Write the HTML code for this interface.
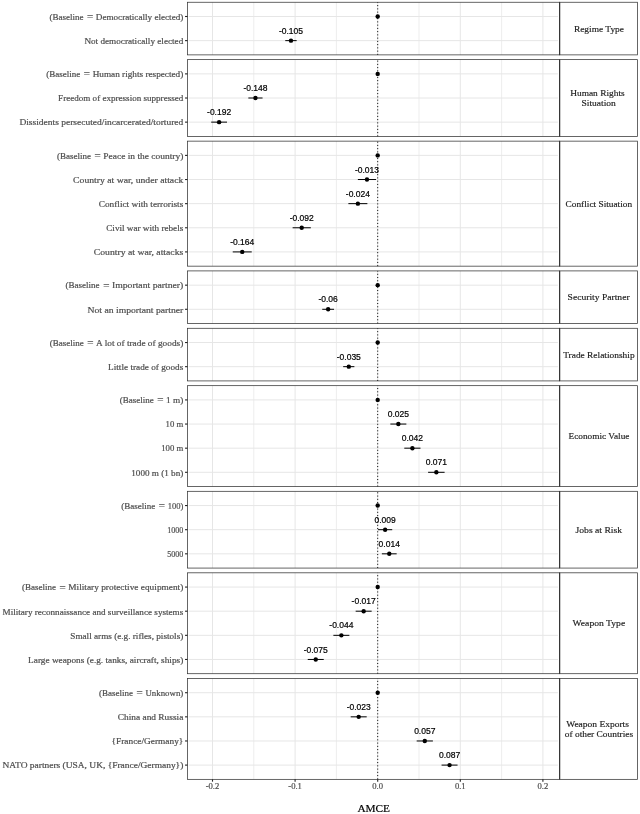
<!DOCTYPE html>
<html lang="en">
<head>
<meta charset="utf-8">
<title>AMCE plot</title>
<style>
html,body{margin:0;padding:0;background:#fff;}
svg{display:block;}
.yl{font-family:"Liberation Serif",serif;font-size:9px;fill:#4d4d4d;stroke:#4d4d4d;stroke-width:0.2px;}
.eq{font-family:"Liberation Serif",serif;font-size:11.5px;fill:#4d4d4d;}
.st{font-family:"Liberation Serif",serif;font-size:9px;fill:#1a1a1a;stroke:#1a1a1a;stroke-width:0.15px;}
.xt{font-family:"Liberation Serif",serif;font-size:8.6px;fill:#4d4d4d;stroke:#4d4d4d;stroke-width:0.2px;text-anchor:middle;}
.ti{font-family:"Liberation Serif",serif;font-size:11.3px;fill:#000;stroke:#000;stroke-width:0.2px;text-anchor:middle;}
.vl{font-family:"Liberation Sans",sans-serif;font-size:8.5px;fill:#000;stroke:#000;stroke-width:0.2px;text-anchor:middle;}
</style>
</head>
<body>
<svg width="640" height="814" viewBox="0 0 640 814">
<rect x="0" y="0" width="640" height="814" fill="#ffffff"/>
<g>
<rect x="187.50" y="2.25" width="372.10" height="52.63" fill="#fff"/>
<line x1="253.80" y1="2.25" x2="253.80" y2="54.88" stroke="#e3e3e3" stroke-width="0.65"/>
<line x1="336.40" y1="2.25" x2="336.40" y2="54.88" stroke="#e3e3e3" stroke-width="0.65"/>
<line x1="419.00" y1="2.25" x2="419.00" y2="54.88" stroke="#e3e3e3" stroke-width="0.65"/>
<line x1="501.60" y1="2.25" x2="501.60" y2="54.88" stroke="#e3e3e3" stroke-width="0.65"/>
<line x1="212.50" y1="2.25" x2="212.50" y2="54.88" stroke="#e6e6e6" stroke-width="1"/>
<line x1="295.10" y1="2.25" x2="295.10" y2="54.88" stroke="#e6e6e6" stroke-width="1"/>
<line x1="377.70" y1="2.25" x2="377.70" y2="54.88" stroke="#e6e6e6" stroke-width="1"/>
<line x1="460.30" y1="2.25" x2="460.30" y2="54.88" stroke="#e6e6e6" stroke-width="1"/>
<line x1="542.90" y1="2.25" x2="542.90" y2="54.88" stroke="#e6e6e6" stroke-width="1"/>
<line x1="188.90" y1="16.50" x2="557.90" y2="16.50" stroke="#e6e6e6" stroke-width="1"/>
<line x1="188.90" y1="40.63" x2="557.90" y2="40.63" stroke="#e6e6e6" stroke-width="1"/>
<line x1="377.70" y1="54.88" x2="377.70" y2="2.25" stroke="#000" stroke-width="1" stroke-dasharray="1 2.25"/>
<circle cx="377.70" cy="16.50" r="2.2" fill="#000"/>
<line x1="285.27" y1="40.63" x2="296.67" y2="40.63" stroke="#000" stroke-width="1"/>
<circle cx="290.97" cy="40.63" r="2.2" fill="#000"/>
<text class="vl" x="290.97" y="33.73">-0.105</text>
<rect x="187.50" y="2.25" width="372.10" height="52.63" fill="none" stroke="#333" stroke-width="0.75"/>
<rect x="559.60" y="2.25" width="77.90" height="52.63" fill="#fff" stroke="#333" stroke-width="0.75"/>
<line x1="559.70" y1="2.25" x2="559.70" y2="54.88" stroke="#333" stroke-width="1.1"/>
<text class="st" x="573.90" y="31.71" textLength="50.10" lengthAdjust="spacingAndGlyphs">Regime Type</text>
<line x1="185.05" y1="16.50" x2="187.50" y2="16.50" stroke="#222" stroke-width="1.1"/>
<text class="yl" x="49.40" y="19.80" textLength="34.00" lengthAdjust="spacingAndGlyphs">(Baseline</text>
<text class="eq" x="86.70" y="21.00" textLength="6.70" lengthAdjust="spacingAndGlyphs">=</text>
<text class="yl" x="95.80" y="19.80" textLength="87.50" lengthAdjust="spacingAndGlyphs">Democratically elected)</text>
<line x1="185.05" y1="40.63" x2="187.50" y2="40.63" stroke="#222" stroke-width="1.1"/>
<text class="yl" x="84.40" y="43.93" textLength="98.90" lengthAdjust="spacingAndGlyphs">Not democratically elected</text>
</g>
<g>
<rect x="187.50" y="59.63" width="372.10" height="76.76" fill="#fff"/>
<line x1="253.80" y1="59.63" x2="253.80" y2="136.39" stroke="#e3e3e3" stroke-width="0.65"/>
<line x1="336.40" y1="59.63" x2="336.40" y2="136.39" stroke="#e3e3e3" stroke-width="0.65"/>
<line x1="419.00" y1="59.63" x2="419.00" y2="136.39" stroke="#e3e3e3" stroke-width="0.65"/>
<line x1="501.60" y1="59.63" x2="501.60" y2="136.39" stroke="#e3e3e3" stroke-width="0.65"/>
<line x1="212.50" y1="59.63" x2="212.50" y2="136.39" stroke="#e6e6e6" stroke-width="1"/>
<line x1="295.10" y1="59.63" x2="295.10" y2="136.39" stroke="#e6e6e6" stroke-width="1"/>
<line x1="377.70" y1="59.63" x2="377.70" y2="136.39" stroke="#e6e6e6" stroke-width="1"/>
<line x1="460.30" y1="59.63" x2="460.30" y2="136.39" stroke="#e6e6e6" stroke-width="1"/>
<line x1="542.90" y1="59.63" x2="542.90" y2="136.39" stroke="#e6e6e6" stroke-width="1"/>
<line x1="188.90" y1="73.88" x2="557.90" y2="73.88" stroke="#e6e6e6" stroke-width="1"/>
<line x1="188.90" y1="98.01" x2="557.90" y2="98.01" stroke="#e6e6e6" stroke-width="1"/>
<line x1="188.90" y1="122.14" x2="557.90" y2="122.14" stroke="#e6e6e6" stroke-width="1"/>
<line x1="377.70" y1="136.39" x2="377.70" y2="59.63" stroke="#000" stroke-width="1" stroke-dasharray="1 2.25"/>
<circle cx="377.70" cy="73.88" r="2.2" fill="#000"/>
<line x1="248.35" y1="98.01" x2="262.55" y2="98.01" stroke="#000" stroke-width="1"/>
<circle cx="255.45" cy="98.01" r="2.2" fill="#000"/>
<text class="vl" x="255.45" y="91.11">-0.148</text>
<line x1="211.21" y1="122.14" x2="227.01" y2="122.14" stroke="#000" stroke-width="1"/>
<circle cx="219.11" cy="122.14" r="2.2" fill="#000"/>
<text class="vl" x="219.11" y="115.24">-0.192</text>
<rect x="187.50" y="59.63" width="372.10" height="76.76" fill="none" stroke="#333" stroke-width="0.75"/>
<rect x="559.60" y="59.63" width="77.90" height="76.76" fill="#fff" stroke="#333" stroke-width="0.75"/>
<line x1="559.70" y1="59.63" x2="559.70" y2="136.39" stroke="#333" stroke-width="1.1"/>
<text class="st" x="570.20" y="96.41" textLength="54.50" lengthAdjust="spacingAndGlyphs">Human Rights</text>
<text class="st" x="581.50" y="105.91" textLength="34.40" lengthAdjust="spacingAndGlyphs">Situation</text>
<line x1="185.05" y1="73.88" x2="187.50" y2="73.88" stroke="#222" stroke-width="1.1"/>
<text class="yl" x="46.25" y="77.18" textLength="34.00" lengthAdjust="spacingAndGlyphs">(Baseline</text>
<text class="eq" x="83.55" y="78.38" textLength="6.70" lengthAdjust="spacingAndGlyphs">=</text>
<text class="yl" x="92.65" y="77.18" textLength="90.65" lengthAdjust="spacingAndGlyphs">Human rights respected)</text>
<line x1="185.05" y1="98.01" x2="187.50" y2="98.01" stroke="#222" stroke-width="1.1"/>
<text class="yl" x="58.10" y="101.31" textLength="125.20" lengthAdjust="spacingAndGlyphs">Freedom of expression suppressed</text>
<line x1="185.05" y1="122.14" x2="187.50" y2="122.14" stroke="#222" stroke-width="1.1"/>
<text class="yl" x="19.40" y="125.44" textLength="163.90" lengthAdjust="spacingAndGlyphs">Dissidents persecuted/incarcerated/tortured</text>
</g>
<g>
<rect x="187.50" y="141.14" width="372.10" height="125.02" fill="#fff"/>
<line x1="253.80" y1="141.14" x2="253.80" y2="266.16" stroke="#e3e3e3" stroke-width="0.65"/>
<line x1="336.40" y1="141.14" x2="336.40" y2="266.16" stroke="#e3e3e3" stroke-width="0.65"/>
<line x1="419.00" y1="141.14" x2="419.00" y2="266.16" stroke="#e3e3e3" stroke-width="0.65"/>
<line x1="501.60" y1="141.14" x2="501.60" y2="266.16" stroke="#e3e3e3" stroke-width="0.65"/>
<line x1="212.50" y1="141.14" x2="212.50" y2="266.16" stroke="#e6e6e6" stroke-width="1"/>
<line x1="295.10" y1="141.14" x2="295.10" y2="266.16" stroke="#e6e6e6" stroke-width="1"/>
<line x1="377.70" y1="141.14" x2="377.70" y2="266.16" stroke="#e6e6e6" stroke-width="1"/>
<line x1="460.30" y1="141.14" x2="460.30" y2="266.16" stroke="#e6e6e6" stroke-width="1"/>
<line x1="542.90" y1="141.14" x2="542.90" y2="266.16" stroke="#e6e6e6" stroke-width="1"/>
<line x1="188.90" y1="155.39" x2="557.90" y2="155.39" stroke="#e6e6e6" stroke-width="1"/>
<line x1="188.90" y1="179.52" x2="557.90" y2="179.52" stroke="#e6e6e6" stroke-width="1"/>
<line x1="188.90" y1="203.65" x2="557.90" y2="203.65" stroke="#e6e6e6" stroke-width="1"/>
<line x1="188.90" y1="227.78" x2="557.90" y2="227.78" stroke="#e6e6e6" stroke-width="1"/>
<line x1="188.90" y1="251.91" x2="557.90" y2="251.91" stroke="#e6e6e6" stroke-width="1"/>
<line x1="377.70" y1="266.16" x2="377.70" y2="141.14" stroke="#000" stroke-width="1" stroke-dasharray="1 2.25"/>
<circle cx="377.70" cy="155.39" r="2.2" fill="#000"/>
<line x1="357.86" y1="179.52" x2="376.06" y2="179.52" stroke="#000" stroke-width="1"/>
<circle cx="366.96" cy="179.52" r="2.2" fill="#000"/>
<text class="vl" x="366.96" y="172.62">-0.013</text>
<line x1="348.38" y1="203.65" x2="367.38" y2="203.65" stroke="#000" stroke-width="1"/>
<circle cx="357.88" cy="203.65" r="2.2" fill="#000"/>
<text class="vl" x="357.88" y="196.75">-0.024</text>
<line x1="292.61" y1="227.78" x2="310.81" y2="227.78" stroke="#000" stroke-width="1"/>
<circle cx="301.71" cy="227.78" r="2.2" fill="#000"/>
<text class="vl" x="301.71" y="220.88">-0.092</text>
<line x1="232.74" y1="251.91" x2="251.74" y2="251.91" stroke="#000" stroke-width="1"/>
<circle cx="242.24" cy="251.91" r="2.2" fill="#000"/>
<text class="vl" x="242.24" y="245.01">-0.164</text>
<rect x="187.50" y="141.14" width="372.10" height="125.02" fill="none" stroke="#333" stroke-width="0.75"/>
<rect x="559.60" y="141.14" width="77.90" height="125.02" fill="#fff" stroke="#333" stroke-width="0.75"/>
<line x1="559.70" y1="141.14" x2="559.70" y2="266.16" stroke="#333" stroke-width="1.1"/>
<text class="st" x="565.60" y="206.80" textLength="66.50" lengthAdjust="spacingAndGlyphs">Conflict Situation</text>
<line x1="185.05" y1="155.39" x2="187.50" y2="155.39" stroke="#222" stroke-width="1.1"/>
<text class="yl" x="56.90" y="158.69" textLength="34.00" lengthAdjust="spacingAndGlyphs">(Baseline</text>
<text class="eq" x="94.20" y="159.89" textLength="6.70" lengthAdjust="spacingAndGlyphs">=</text>
<text class="yl" x="103.30" y="158.69" textLength="80.00" lengthAdjust="spacingAndGlyphs">Peace in the country)</text>
<line x1="185.05" y1="179.52" x2="187.50" y2="179.52" stroke="#222" stroke-width="1.1"/>
<text class="yl" x="73.10" y="182.82" textLength="110.20" lengthAdjust="spacingAndGlyphs">Country at war, under attack</text>
<line x1="185.05" y1="203.65" x2="187.50" y2="203.65" stroke="#222" stroke-width="1.1"/>
<text class="yl" x="98.75" y="206.95" textLength="84.55" lengthAdjust="spacingAndGlyphs">Conflict with terrorists</text>
<line x1="185.05" y1="227.78" x2="187.50" y2="227.78" stroke="#222" stroke-width="1.1"/>
<text class="yl" x="106.25" y="231.08" textLength="77.05" lengthAdjust="spacingAndGlyphs">Civil war with rebels</text>
<line x1="185.05" y1="251.91" x2="187.50" y2="251.91" stroke="#222" stroke-width="1.1"/>
<text class="yl" x="93.75" y="255.21" textLength="89.55" lengthAdjust="spacingAndGlyphs">Country at war, attacks</text>
</g>
<g>
<rect x="187.50" y="270.91" width="372.10" height="52.63" fill="#fff"/>
<line x1="253.80" y1="270.91" x2="253.80" y2="323.54" stroke="#e3e3e3" stroke-width="0.65"/>
<line x1="336.40" y1="270.91" x2="336.40" y2="323.54" stroke="#e3e3e3" stroke-width="0.65"/>
<line x1="419.00" y1="270.91" x2="419.00" y2="323.54" stroke="#e3e3e3" stroke-width="0.65"/>
<line x1="501.60" y1="270.91" x2="501.60" y2="323.54" stroke="#e3e3e3" stroke-width="0.65"/>
<line x1="212.50" y1="270.91" x2="212.50" y2="323.54" stroke="#e6e6e6" stroke-width="1"/>
<line x1="295.10" y1="270.91" x2="295.10" y2="323.54" stroke="#e6e6e6" stroke-width="1"/>
<line x1="377.70" y1="270.91" x2="377.70" y2="323.54" stroke="#e6e6e6" stroke-width="1"/>
<line x1="460.30" y1="270.91" x2="460.30" y2="323.54" stroke="#e6e6e6" stroke-width="1"/>
<line x1="542.90" y1="270.91" x2="542.90" y2="323.54" stroke="#e6e6e6" stroke-width="1"/>
<line x1="188.90" y1="285.16" x2="557.90" y2="285.16" stroke="#e6e6e6" stroke-width="1"/>
<line x1="188.90" y1="309.29" x2="557.90" y2="309.29" stroke="#e6e6e6" stroke-width="1"/>
<line x1="377.70" y1="323.54" x2="377.70" y2="270.91" stroke="#000" stroke-width="1" stroke-dasharray="1 2.25"/>
<circle cx="377.70" cy="285.16" r="2.2" fill="#000"/>
<line x1="322.24" y1="309.29" x2="334.04" y2="309.29" stroke="#000" stroke-width="1"/>
<circle cx="328.14" cy="309.29" r="2.2" fill="#000"/>
<text class="vl" x="328.14" y="302.39">-0.06</text>
<rect x="187.50" y="270.91" width="372.10" height="52.63" fill="none" stroke="#333" stroke-width="0.75"/>
<rect x="559.60" y="270.91" width="77.90" height="52.63" fill="#fff" stroke="#333" stroke-width="0.75"/>
<line x1="559.70" y1="270.91" x2="559.70" y2="323.54" stroke="#333" stroke-width="1.1"/>
<text class="st" x="567.60" y="300.37" textLength="62.00" lengthAdjust="spacingAndGlyphs">Security Partner</text>
<line x1="185.05" y1="285.16" x2="187.50" y2="285.16" stroke="#222" stroke-width="1.1"/>
<text class="yl" x="65.60" y="288.46" textLength="34.00" lengthAdjust="spacingAndGlyphs">(Baseline</text>
<text class="eq" x="102.90" y="289.66" textLength="6.70" lengthAdjust="spacingAndGlyphs">=</text>
<text class="yl" x="112.00" y="288.46" textLength="71.30" lengthAdjust="spacingAndGlyphs">Important partner)</text>
<line x1="185.05" y1="309.29" x2="187.50" y2="309.29" stroke="#222" stroke-width="1.1"/>
<text class="yl" x="87.50" y="312.59" textLength="95.80" lengthAdjust="spacingAndGlyphs">Not an important partner</text>
</g>
<g>
<rect x="187.50" y="328.29" width="372.10" height="52.63" fill="#fff"/>
<line x1="253.80" y1="328.29" x2="253.80" y2="380.92" stroke="#e3e3e3" stroke-width="0.65"/>
<line x1="336.40" y1="328.29" x2="336.40" y2="380.92" stroke="#e3e3e3" stroke-width="0.65"/>
<line x1="419.00" y1="328.29" x2="419.00" y2="380.92" stroke="#e3e3e3" stroke-width="0.65"/>
<line x1="501.60" y1="328.29" x2="501.60" y2="380.92" stroke="#e3e3e3" stroke-width="0.65"/>
<line x1="212.50" y1="328.29" x2="212.50" y2="380.92" stroke="#e6e6e6" stroke-width="1"/>
<line x1="295.10" y1="328.29" x2="295.10" y2="380.92" stroke="#e6e6e6" stroke-width="1"/>
<line x1="377.70" y1="328.29" x2="377.70" y2="380.92" stroke="#e6e6e6" stroke-width="1"/>
<line x1="460.30" y1="328.29" x2="460.30" y2="380.92" stroke="#e6e6e6" stroke-width="1"/>
<line x1="542.90" y1="328.29" x2="542.90" y2="380.92" stroke="#e6e6e6" stroke-width="1"/>
<line x1="188.90" y1="342.54" x2="557.90" y2="342.54" stroke="#e6e6e6" stroke-width="1"/>
<line x1="188.90" y1="366.67" x2="557.90" y2="366.67" stroke="#e6e6e6" stroke-width="1"/>
<line x1="377.70" y1="380.92" x2="377.70" y2="328.29" stroke="#000" stroke-width="1" stroke-dasharray="1 2.25"/>
<circle cx="377.70" cy="342.54" r="2.2" fill="#000"/>
<line x1="343.19" y1="366.67" x2="354.39" y2="366.67" stroke="#000" stroke-width="1"/>
<circle cx="348.79" cy="366.67" r="2.2" fill="#000"/>
<text class="vl" x="348.79" y="359.77">-0.035</text>
<rect x="187.50" y="328.29" width="372.10" height="52.63" fill="none" stroke="#333" stroke-width="0.75"/>
<rect x="559.60" y="328.29" width="77.90" height="52.63" fill="#fff" stroke="#333" stroke-width="0.75"/>
<line x1="559.70" y1="328.29" x2="559.70" y2="380.92" stroke="#333" stroke-width="1.1"/>
<text class="st" x="563.20" y="357.75" textLength="71.40" lengthAdjust="spacingAndGlyphs">Trade Relationship</text>
<line x1="185.05" y1="342.54" x2="187.50" y2="342.54" stroke="#222" stroke-width="1.1"/>
<text class="yl" x="49.70" y="345.84" textLength="34.00" lengthAdjust="spacingAndGlyphs">(Baseline</text>
<text class="eq" x="87.00" y="347.04" textLength="6.70" lengthAdjust="spacingAndGlyphs">=</text>
<text class="yl" x="96.10" y="345.84" textLength="87.20" lengthAdjust="spacingAndGlyphs">A lot of trade of goods)</text>
<line x1="185.05" y1="366.67" x2="187.50" y2="366.67" stroke="#222" stroke-width="1.1"/>
<text class="yl" x="108.10" y="369.97" textLength="75.20" lengthAdjust="spacingAndGlyphs">Little trade of goods</text>
</g>
<g>
<rect x="187.50" y="385.67" width="372.10" height="100.89" fill="#fff"/>
<line x1="253.80" y1="385.67" x2="253.80" y2="486.56" stroke="#e3e3e3" stroke-width="0.65"/>
<line x1="336.40" y1="385.67" x2="336.40" y2="486.56" stroke="#e3e3e3" stroke-width="0.65"/>
<line x1="419.00" y1="385.67" x2="419.00" y2="486.56" stroke="#e3e3e3" stroke-width="0.65"/>
<line x1="501.60" y1="385.67" x2="501.60" y2="486.56" stroke="#e3e3e3" stroke-width="0.65"/>
<line x1="212.50" y1="385.67" x2="212.50" y2="486.56" stroke="#e6e6e6" stroke-width="1"/>
<line x1="295.10" y1="385.67" x2="295.10" y2="486.56" stroke="#e6e6e6" stroke-width="1"/>
<line x1="377.70" y1="385.67" x2="377.70" y2="486.56" stroke="#e6e6e6" stroke-width="1"/>
<line x1="460.30" y1="385.67" x2="460.30" y2="486.56" stroke="#e6e6e6" stroke-width="1"/>
<line x1="542.90" y1="385.67" x2="542.90" y2="486.56" stroke="#e6e6e6" stroke-width="1"/>
<line x1="188.90" y1="399.92" x2="557.90" y2="399.92" stroke="#e6e6e6" stroke-width="1"/>
<line x1="188.90" y1="424.05" x2="557.90" y2="424.05" stroke="#e6e6e6" stroke-width="1"/>
<line x1="188.90" y1="448.18" x2="557.90" y2="448.18" stroke="#e6e6e6" stroke-width="1"/>
<line x1="188.90" y1="472.31" x2="557.90" y2="472.31" stroke="#e6e6e6" stroke-width="1"/>
<line x1="377.70" y1="486.56" x2="377.70" y2="385.67" stroke="#000" stroke-width="1" stroke-dasharray="1 2.25"/>
<circle cx="377.70" cy="399.92" r="2.2" fill="#000"/>
<line x1="390.35" y1="424.05" x2="406.35" y2="424.05" stroke="#000" stroke-width="1"/>
<circle cx="398.35" cy="424.05" r="2.2" fill="#000"/>
<text class="vl" x="398.35" y="417.15">0.025</text>
<line x1="404.29" y1="448.18" x2="420.49" y2="448.18" stroke="#000" stroke-width="1"/>
<circle cx="412.39" cy="448.18" r="2.2" fill="#000"/>
<text class="vl" x="412.39" y="441.28">0.042</text>
<line x1="428.10" y1="472.31" x2="444.60" y2="472.31" stroke="#000" stroke-width="1"/>
<circle cx="436.35" cy="472.31" r="2.2" fill="#000"/>
<text class="vl" x="436.35" y="465.41">0.071</text>
<rect x="187.50" y="385.67" width="372.10" height="100.89" fill="none" stroke="#333" stroke-width="0.75"/>
<rect x="559.60" y="385.67" width="77.90" height="100.89" fill="#fff" stroke="#333" stroke-width="0.75"/>
<line x1="559.70" y1="385.67" x2="559.70" y2="486.56" stroke="#333" stroke-width="1.1"/>
<text class="st" x="568.60" y="439.26" textLength="60.80" lengthAdjust="spacingAndGlyphs">Economic Value</text>
<line x1="185.05" y1="399.92" x2="187.50" y2="399.92" stroke="#222" stroke-width="1.1"/>
<text class="yl" x="119.70" y="403.22" textLength="34.00" lengthAdjust="spacingAndGlyphs">(Baseline</text>
<text class="eq" x="157.00" y="404.42" textLength="6.70" lengthAdjust="spacingAndGlyphs">=</text>
<text class="yl" x="166.10" y="403.22" textLength="17.20" lengthAdjust="spacingAndGlyphs">1 m)</text>
<line x1="185.05" y1="424.05" x2="187.50" y2="424.05" stroke="#222" stroke-width="1.1"/>
<text class="yl" x="165.60" y="427.35" textLength="17.70" lengthAdjust="spacingAndGlyphs">10 m</text>
<line x1="185.05" y1="448.18" x2="187.50" y2="448.18" stroke="#222" stroke-width="1.1"/>
<text class="yl" x="161.25" y="451.48" textLength="22.05" lengthAdjust="spacingAndGlyphs">100 m</text>
<line x1="185.05" y1="472.31" x2="187.50" y2="472.31" stroke="#222" stroke-width="1.1"/>
<text class="yl" x="131.25" y="475.61" textLength="52.05" lengthAdjust="spacingAndGlyphs">1000 m (1 bn)</text>
</g>
<g>
<rect x="187.50" y="491.31" width="372.10" height="76.76" fill="#fff"/>
<line x1="253.80" y1="491.31" x2="253.80" y2="568.07" stroke="#e3e3e3" stroke-width="0.65"/>
<line x1="336.40" y1="491.31" x2="336.40" y2="568.07" stroke="#e3e3e3" stroke-width="0.65"/>
<line x1="419.00" y1="491.31" x2="419.00" y2="568.07" stroke="#e3e3e3" stroke-width="0.65"/>
<line x1="501.60" y1="491.31" x2="501.60" y2="568.07" stroke="#e3e3e3" stroke-width="0.65"/>
<line x1="212.50" y1="491.31" x2="212.50" y2="568.07" stroke="#e6e6e6" stroke-width="1"/>
<line x1="295.10" y1="491.31" x2="295.10" y2="568.07" stroke="#e6e6e6" stroke-width="1"/>
<line x1="377.70" y1="491.31" x2="377.70" y2="568.07" stroke="#e6e6e6" stroke-width="1"/>
<line x1="460.30" y1="491.31" x2="460.30" y2="568.07" stroke="#e6e6e6" stroke-width="1"/>
<line x1="542.90" y1="491.31" x2="542.90" y2="568.07" stroke="#e6e6e6" stroke-width="1"/>
<line x1="188.90" y1="505.56" x2="557.90" y2="505.56" stroke="#e6e6e6" stroke-width="1"/>
<line x1="188.90" y1="529.69" x2="557.90" y2="529.69" stroke="#e6e6e6" stroke-width="1"/>
<line x1="188.90" y1="553.82" x2="557.90" y2="553.82" stroke="#e6e6e6" stroke-width="1"/>
<line x1="377.70" y1="568.07" x2="377.70" y2="491.31" stroke="#000" stroke-width="1" stroke-dasharray="1 2.25"/>
<circle cx="377.70" cy="505.56" r="2.2" fill="#000"/>
<line x1="378.03" y1="529.69" x2="392.23" y2="529.69" stroke="#000" stroke-width="1"/>
<circle cx="385.13" cy="529.69" r="2.2" fill="#000"/>
<text class="vl" x="385.13" y="522.79">0.009</text>
<line x1="381.86" y1="553.82" x2="396.66" y2="553.82" stroke="#000" stroke-width="1"/>
<circle cx="389.26" cy="553.82" r="2.2" fill="#000"/>
<text class="vl" x="389.26" y="546.92">0.014</text>
<rect x="187.50" y="491.31" width="372.10" height="76.76" fill="none" stroke="#333" stroke-width="0.75"/>
<rect x="559.60" y="491.31" width="77.90" height="76.76" fill="#fff" stroke="#333" stroke-width="0.75"/>
<line x1="559.70" y1="491.31" x2="559.70" y2="568.07" stroke="#333" stroke-width="1.1"/>
<text class="st" x="575.50" y="532.84" textLength="46.60" lengthAdjust="spacingAndGlyphs">Jobs at Risk</text>
<line x1="185.05" y1="505.56" x2="187.50" y2="505.56" stroke="#222" stroke-width="1.1"/>
<text class="yl" x="121.25" y="508.86" textLength="34.00" lengthAdjust="spacingAndGlyphs">(Baseline</text>
<text class="eq" x="158.55" y="510.06" textLength="6.70" lengthAdjust="spacingAndGlyphs">=</text>
<text class="yl" x="167.65" y="508.86" textLength="15.65" lengthAdjust="spacingAndGlyphs">100)</text>
<line x1="185.05" y1="529.69" x2="187.50" y2="529.69" stroke="#222" stroke-width="1.1"/>
<text class="yl" x="167.20" y="532.99" textLength="16.10" lengthAdjust="spacingAndGlyphs">1000</text>
<line x1="185.05" y1="553.82" x2="187.50" y2="553.82" stroke="#222" stroke-width="1.1"/>
<text class="yl" x="167.20" y="557.12" textLength="16.10" lengthAdjust="spacingAndGlyphs">5000</text>
</g>
<g>
<rect x="187.50" y="572.82" width="372.10" height="100.89" fill="#fff"/>
<line x1="253.80" y1="572.82" x2="253.80" y2="673.71" stroke="#e3e3e3" stroke-width="0.65"/>
<line x1="336.40" y1="572.82" x2="336.40" y2="673.71" stroke="#e3e3e3" stroke-width="0.65"/>
<line x1="419.00" y1="572.82" x2="419.00" y2="673.71" stroke="#e3e3e3" stroke-width="0.65"/>
<line x1="501.60" y1="572.82" x2="501.60" y2="673.71" stroke="#e3e3e3" stroke-width="0.65"/>
<line x1="212.50" y1="572.82" x2="212.50" y2="673.71" stroke="#e6e6e6" stroke-width="1"/>
<line x1="295.10" y1="572.82" x2="295.10" y2="673.71" stroke="#e6e6e6" stroke-width="1"/>
<line x1="377.70" y1="572.82" x2="377.70" y2="673.71" stroke="#e6e6e6" stroke-width="1"/>
<line x1="460.30" y1="572.82" x2="460.30" y2="673.71" stroke="#e6e6e6" stroke-width="1"/>
<line x1="542.90" y1="572.82" x2="542.90" y2="673.71" stroke="#e6e6e6" stroke-width="1"/>
<line x1="188.90" y1="587.07" x2="557.90" y2="587.07" stroke="#e6e6e6" stroke-width="1"/>
<line x1="188.90" y1="611.20" x2="557.90" y2="611.20" stroke="#e6e6e6" stroke-width="1"/>
<line x1="188.90" y1="635.33" x2="557.90" y2="635.33" stroke="#e6e6e6" stroke-width="1"/>
<line x1="188.90" y1="659.46" x2="557.90" y2="659.46" stroke="#e6e6e6" stroke-width="1"/>
<line x1="377.70" y1="673.71" x2="377.70" y2="572.82" stroke="#000" stroke-width="1" stroke-dasharray="1 2.25"/>
<circle cx="377.70" cy="587.07" r="2.2" fill="#000"/>
<line x1="355.66" y1="611.20" x2="371.66" y2="611.20" stroke="#000" stroke-width="1"/>
<circle cx="363.66" cy="611.20" r="2.2" fill="#000"/>
<text class="vl" x="363.66" y="604.30">-0.017</text>
<line x1="333.36" y1="635.33" x2="349.36" y2="635.33" stroke="#000" stroke-width="1"/>
<circle cx="341.36" cy="635.33" r="2.2" fill="#000"/>
<text class="vl" x="341.36" y="628.43">-0.044</text>
<line x1="307.75" y1="659.46" x2="323.75" y2="659.46" stroke="#000" stroke-width="1"/>
<circle cx="315.75" cy="659.46" r="2.2" fill="#000"/>
<text class="vl" x="315.75" y="652.56">-0.075</text>
<rect x="187.50" y="572.82" width="372.10" height="100.89" fill="none" stroke="#333" stroke-width="0.75"/>
<rect x="559.60" y="572.82" width="77.90" height="100.89" fill="#fff" stroke="#333" stroke-width="0.75"/>
<line x1="559.70" y1="572.82" x2="559.70" y2="673.71" stroke="#333" stroke-width="1.1"/>
<text class="st" x="572.50" y="626.41" textLength="52.70" lengthAdjust="spacingAndGlyphs">Weapon Type</text>
<line x1="185.05" y1="587.07" x2="187.50" y2="587.07" stroke="#222" stroke-width="1.1"/>
<text class="yl" x="21.90" y="590.37" textLength="34.00" lengthAdjust="spacingAndGlyphs">(Baseline</text>
<text class="eq" x="59.20" y="591.57" textLength="6.70" lengthAdjust="spacingAndGlyphs">=</text>
<text class="yl" x="68.30" y="590.37" textLength="115.00" lengthAdjust="spacingAndGlyphs">Military protective equipment)</text>
<line x1="185.05" y1="611.20" x2="187.50" y2="611.20" stroke="#222" stroke-width="1.1"/>
<text class="yl" x="2.50" y="614.50" textLength="180.80" lengthAdjust="spacingAndGlyphs">Military reconnaissance and surveillance systems</text>
<line x1="185.05" y1="635.33" x2="187.50" y2="635.33" stroke="#222" stroke-width="1.1"/>
<text class="yl" x="70.30" y="638.63" textLength="113.00" lengthAdjust="spacingAndGlyphs">Small arms (e.g. rifles, pistols)</text>
<line x1="185.05" y1="659.46" x2="187.50" y2="659.46" stroke="#222" stroke-width="1.1"/>
<text class="yl" x="28.10" y="662.76" textLength="155.20" lengthAdjust="spacingAndGlyphs">Large weapons (e.g. tanks, aircraft, ships)</text>
</g>
<g>
<rect x="187.50" y="678.46" width="372.10" height="100.89" fill="#fff"/>
<line x1="253.80" y1="678.46" x2="253.80" y2="779.35" stroke="#e3e3e3" stroke-width="0.65"/>
<line x1="336.40" y1="678.46" x2="336.40" y2="779.35" stroke="#e3e3e3" stroke-width="0.65"/>
<line x1="419.00" y1="678.46" x2="419.00" y2="779.35" stroke="#e3e3e3" stroke-width="0.65"/>
<line x1="501.60" y1="678.46" x2="501.60" y2="779.35" stroke="#e3e3e3" stroke-width="0.65"/>
<line x1="212.50" y1="678.46" x2="212.50" y2="779.35" stroke="#e6e6e6" stroke-width="1"/>
<line x1="295.10" y1="678.46" x2="295.10" y2="779.35" stroke="#e6e6e6" stroke-width="1"/>
<line x1="377.70" y1="678.46" x2="377.70" y2="779.35" stroke="#e6e6e6" stroke-width="1"/>
<line x1="460.30" y1="678.46" x2="460.30" y2="779.35" stroke="#e6e6e6" stroke-width="1"/>
<line x1="542.90" y1="678.46" x2="542.90" y2="779.35" stroke="#e6e6e6" stroke-width="1"/>
<line x1="188.90" y1="692.71" x2="557.90" y2="692.71" stroke="#e6e6e6" stroke-width="1"/>
<line x1="188.90" y1="716.84" x2="557.90" y2="716.84" stroke="#e6e6e6" stroke-width="1"/>
<line x1="188.90" y1="740.97" x2="557.90" y2="740.97" stroke="#e6e6e6" stroke-width="1"/>
<line x1="188.90" y1="765.10" x2="557.90" y2="765.10" stroke="#e6e6e6" stroke-width="1"/>
<line x1="377.70" y1="779.35" x2="377.70" y2="678.46" stroke="#000" stroke-width="1" stroke-dasharray="1 2.25"/>
<circle cx="377.70" cy="692.71" r="2.2" fill="#000"/>
<line x1="350.70" y1="716.84" x2="366.70" y2="716.84" stroke="#000" stroke-width="1"/>
<circle cx="358.70" cy="716.84" r="2.2" fill="#000"/>
<text class="vl" x="358.70" y="709.94">-0.023</text>
<line x1="416.68" y1="740.97" x2="432.88" y2="740.97" stroke="#000" stroke-width="1"/>
<circle cx="424.78" cy="740.97" r="2.2" fill="#000"/>
<text class="vl" x="424.78" y="734.07">0.057</text>
<line x1="441.56" y1="765.10" x2="457.56" y2="765.10" stroke="#000" stroke-width="1"/>
<circle cx="449.56" cy="765.10" r="2.2" fill="#000"/>
<text class="vl" x="449.56" y="758.20">0.087</text>
<rect x="187.50" y="678.46" width="372.10" height="100.89" fill="none" stroke="#333" stroke-width="0.75"/>
<rect x="559.60" y="678.46" width="77.90" height="100.89" fill="#fff" stroke="#333" stroke-width="0.75"/>
<line x1="559.70" y1="678.46" x2="559.70" y2="779.35" stroke="#333" stroke-width="1.1"/>
<text class="st" x="566.20" y="727.30" textLength="62.70" lengthAdjust="spacingAndGlyphs">Weapon Exports</text>
<text class="st" x="564.80" y="736.80" textLength="68.30" lengthAdjust="spacingAndGlyphs">of other Countries</text>
<line x1="185.05" y1="692.71" x2="187.50" y2="692.71" stroke="#222" stroke-width="1.1"/>
<text class="yl" x="99.00" y="696.01" textLength="34.00" lengthAdjust="spacingAndGlyphs">(Baseline</text>
<text class="eq" x="136.30" y="697.21" textLength="6.70" lengthAdjust="spacingAndGlyphs">=</text>
<text class="yl" x="145.40" y="696.01" textLength="37.90" lengthAdjust="spacingAndGlyphs">Unknown)</text>
<line x1="185.05" y1="716.84" x2="187.50" y2="716.84" stroke="#222" stroke-width="1.1"/>
<text class="yl" x="117.80" y="720.14" textLength="65.50" lengthAdjust="spacingAndGlyphs">China and Russia</text>
<line x1="185.05" y1="740.97" x2="187.50" y2="740.97" stroke="#222" stroke-width="1.1"/>
<text class="yl" x="111.60" y="744.27" textLength="71.70" lengthAdjust="spacingAndGlyphs">{France/Germany}</text>
<line x1="185.05" y1="765.10" x2="187.50" y2="765.10" stroke="#222" stroke-width="1.1"/>
<text class="yl" x="2.50" y="768.40" textLength="180.80" lengthAdjust="spacingAndGlyphs">NATO partners (USA, UK, {France/Germany})</text>
</g>
<line x1="212.50" y1="779.35" x2="212.50" y2="781.65" stroke="#222" stroke-width="1.1"/>
<text class="xt" x="212.50" y="789.30">-0.2</text>
<line x1="295.10" y1="779.35" x2="295.10" y2="781.65" stroke="#222" stroke-width="1.1"/>
<text class="xt" x="295.10" y="789.30">-0.1</text>
<line x1="377.70" y1="779.35" x2="377.70" y2="781.65" stroke="#222" stroke-width="1.1"/>
<text class="xt" x="377.70" y="789.30">0.0</text>
<line x1="460.30" y1="779.35" x2="460.30" y2="781.65" stroke="#222" stroke-width="1.1"/>
<text class="xt" x="460.30" y="789.30">0.1</text>
<line x1="542.90" y1="779.35" x2="542.90" y2="781.65" stroke="#222" stroke-width="1.1"/>
<text class="xt" x="542.90" y="789.30">0.2</text>
<text class="ti" x="373.70" y="812.00">AMCE</text>
</svg>
</body>
</html>
